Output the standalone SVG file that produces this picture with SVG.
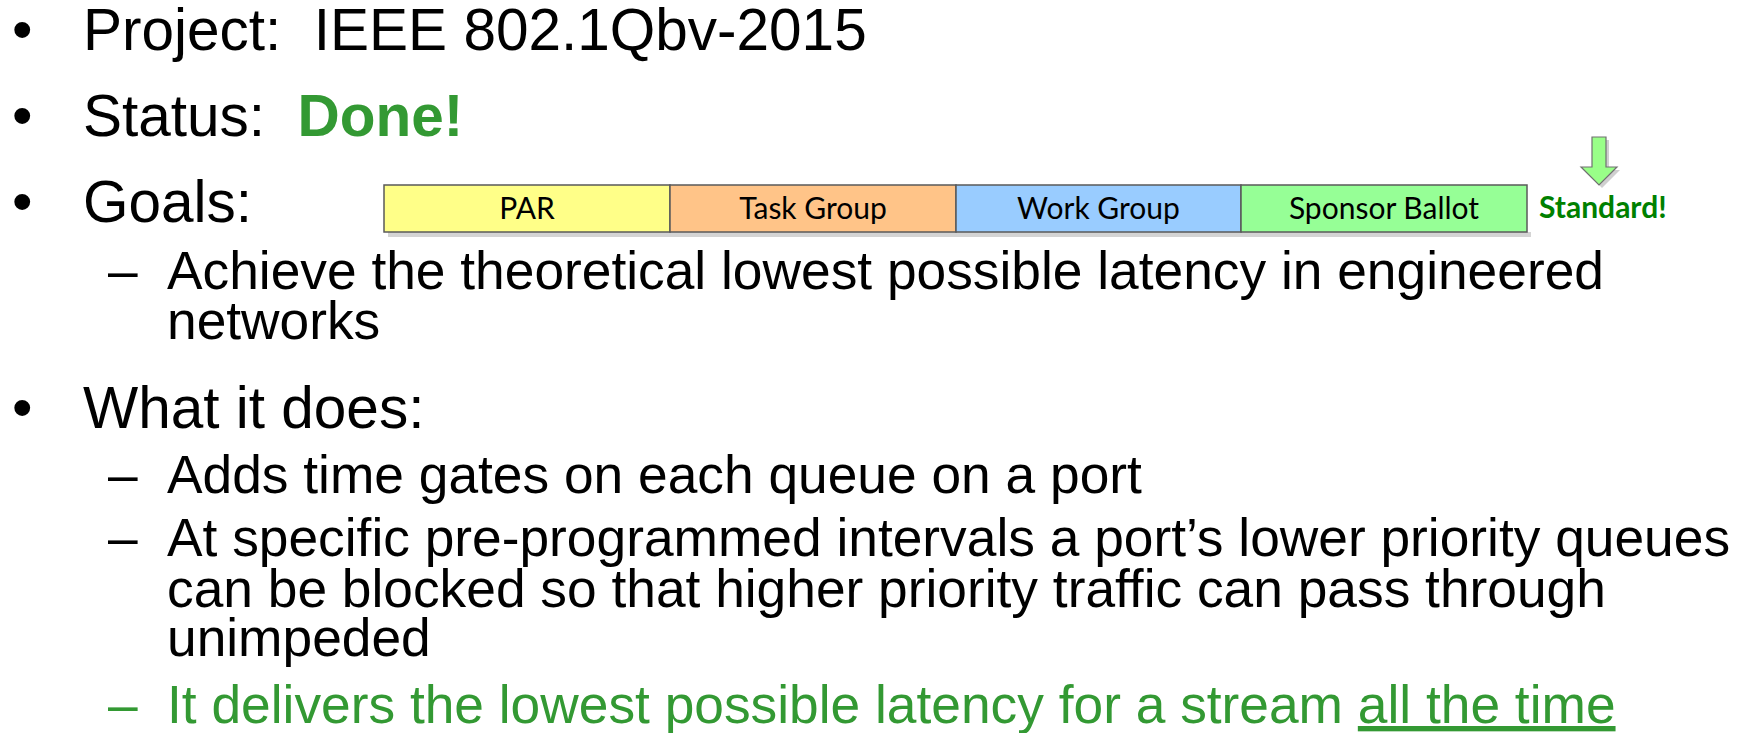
<svg xmlns="http://www.w3.org/2000/svg" width="1744" height="733" viewBox="0 0 1744 733">
  <defs>
    <style>
      .t1 { font-family: "Liberation Sans", Arial, sans-serif; font-size: 58.5px; fill: #000; }
      .t2 { font-family: "Liberation Sans", Arial, sans-serif; font-size: 53.3px; fill: #000; }
      .green { fill: #339933; }
      .seg { stroke: #5a5a5a; stroke-width: 1.5; }
      .lbl { font-family: Lato, "Open Sans", sans-serif; font-size: 30px; fill: #000; text-anchor: middle; }
      .shadow { fill: #d4d4d4; }
    </style>
  </defs>
  <rect width="1744" height="733" fill="#ffffff"/>

  <g id="line-project">
    <text class="t1" x="12" y="50">•</text>
    <text class="t1" x="83" y="50" xml:space="preserve">Project:  IEEE 802.1Qbv-2015</text>
  </g>
  <g id="line-status">
    <text class="t1" x="12" y="136">•</text>
    <text class="t1" x="83" y="136" xml:space="preserve">Status:  <tspan font-weight="bold" class="green">Done!</tspan></text>
  </g>
  <g id="line-goals">
    <text class="t1" x="12" y="222">•</text>
    <text class="t1" x="83" y="222">Goals:</text>
  </g>

  <g id="timeline">
    <rect class="shadow" x="388" y="232" width="1143" height="5"/>
    <g id="seg-par">
      <rect class="seg" x="384" y="185" width="286" height="47" fill="#ffff88"/>
      <text class="lbl" x="527" y="219">PAR</text>
    </g>
    <g id="seg-task">
      <rect class="seg" x="670" y="185" width="286" height="47" fill="#ffc488"/>
      <text class="lbl" x="813" y="219">Task Group</text>
    </g>
    <g id="seg-work">
      <rect class="seg" x="956" y="185" width="285" height="47" fill="#99ccff"/>
      <text class="lbl" x="1098.5" y="219">Work Group</text>
    </g>
    <g id="seg-sponsor">
      <rect class="seg" x="1241" y="185" width="286" height="47" fill="#96ff96"/>
      <text class="lbl" x="1384" y="219">Sponsor Ballot</text>
    </g>
    <g id="standard">
      <path d="M1595,140 H1609 V170 H1620 L1602,188 L1584,170 H1595 Z" fill="#cfcfcf"/>
      <path d="M1592,137 H1606 V167 H1617 L1599,185 L1581,167 H1592 Z" fill="#99ff88" stroke="#707070" stroke-width="1.2"/>
      <text x="1539" y="218" font-family="Lato, 'Open Sans', sans-serif" font-size="30px" font-weight="bold" fill="#008000">Standard!</text>
    </g>
  </g>

  <g id="line-achieve">
    <text class="t2" x="108" y="289">–</text>
    <text class="t2" x="167" y="289">Achieve the theoretical lowest possible latency in engineered</text>
    <text class="t2" x="167" y="339">networks</text>
  </g>
  <g id="line-what">
    <text class="t1" x="12" y="428">•</text>
    <text class="t1" x="83" y="428">What it does:</text>
  </g>
  <g id="line-adds">
    <text class="t2" x="108" y="493">–</text>
    <text class="t2" x="167" y="493">Adds time gates on each queue on a port</text>
  </g>
  <g id="line-specific">
    <text class="t2" x="108" y="556">–</text>
    <text class="t2" x="167" y="556">At specific pre-programmed intervals a port’s lower priority queues</text>
    <text class="t2" x="167" y="607">can be blocked so that higher priority traffic can pass through</text>
    <text class="t2" x="167" y="656">unimpeded</text>
  </g>
  <g id="line-delivers">
    <text class="t2 green" x="108" y="723">–</text>
    <text class="t2 green" x="167" y="723" xml:space="preserve">It delivers the lowest possible latency for a stream <tspan text-decoration="underline">all the time</tspan></text>
  </g>
</svg>
